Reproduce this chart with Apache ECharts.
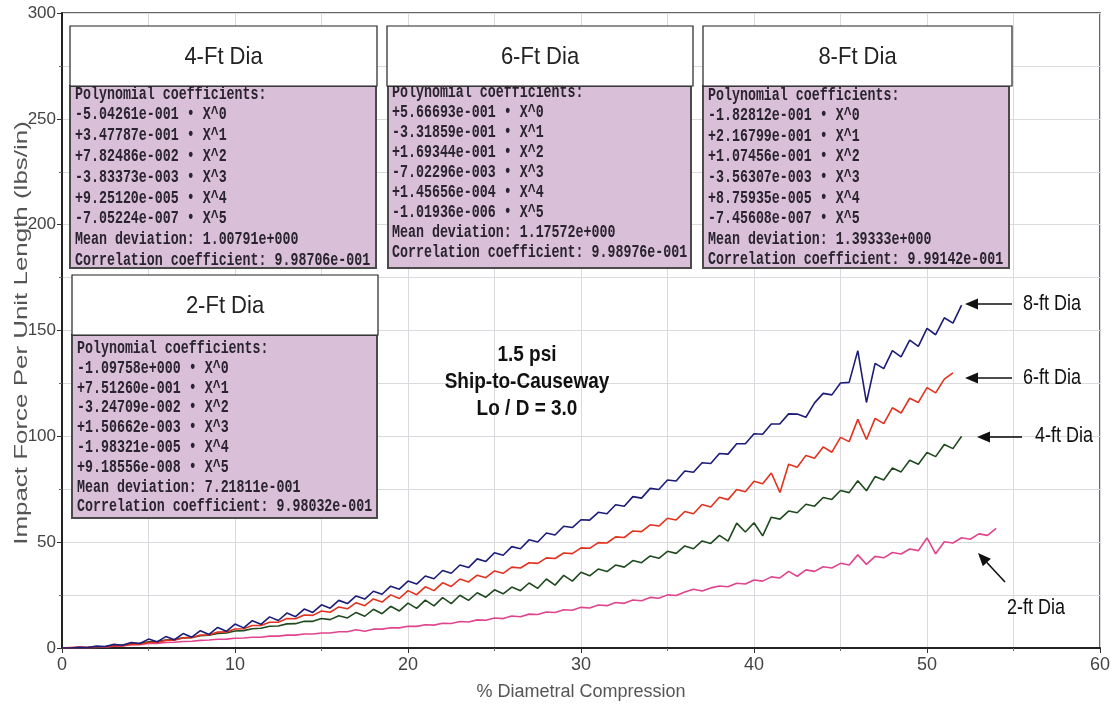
<!DOCTYPE html>
<html><head><meta charset="utf-8">
<script src="https://cdn.jsdelivr.net/npm/echarts@6/dist/echarts.min.js"></script>
<style>html,body{margin:0;padding:0;background:#fff}#c{width:1114px;height:707px}</style>
</head><body><div id="c"></div><script>
// % diametral compression sample positions
const compression = [0,0.5,1,1.5,2,2.5,3,3.5,4,4.5,5,5.5,6,6.5,7,7.5,8,8.5,9,9.5,
10,10.5,11,11.5,12,12.5,13,13.5,14,14.5,15,15.5,16,16.5,17,17.5,18,18.5,19,19.5,
20,20.5,21,21.5,22,22.5,23,23.5,24,24.5,25,25.5,26,26.5,27,27.5,28,28.5,29,29.5,
30,30.5,31,31.5,32,32.5,33,33.5,34,34.5,35,35.5,36,36.5,37,37.5,38,38.5,39,39.5,
40,40.5,41,41.5,42,42.5,43,43.5,44,44.5,45,45.5,46,46.5,47,47.5,48,48.5,49,49.5,
50,50.5,51,51.5,52,52.5,53,53.5,54];

const force8ft = [0,0,0.3,0.2,0.9,0.7,1.7,1.3,2.6,2.1,
4.2,2.9,5.4,3.9,6.8,5.1,8.2,6.4,9.7,7.9,
11.3,9.5,12.9,11.2,14.7,13.0,16.5,14.8,18.4,16.8,
20.4,18.8,22.5,21.0,24.6,23.1,26.8,25.4,29.2,27.8,
31.6,30.2,34.0,32.7,36.6,35.3,39.2,38.0,42.1,40.9,
45.0,43.8,47.9,46.9,51.1,50.1,54.3,53.4,57.5,56.9,
60.6,60.4,64.1,63.4,67.7,67.0,71.5,70.8,75.4,74.9,
79.4,78.9,83.6,83.0,87.5,87.2,91.9,91.6,96.5,96.5,
101.2,101.0,105.8,105.9,110.6,110.5,109.0,115.8,120.3,119.6,
125.2,125.5,140.5,116.0,134.5,132.0,140.5,137.5,145.5,142.5,
151.0,148.0,156.0,153.5,162.0];

const force6ft = [0,0.2,0.4,0.3,0.6,0.6,1.0,1.1,1.7,1.8,
2.6,2.6,3.6,3.7,4.8,4.9,6.1,6.2,7.5,7.6,
9.0,9.1,10.6,10.6,12.2,12.2,13.9,13.8,15.6,15.4,
17.5,16.9,19.4,18.5,21.4,20.0,23.2,21.7,25.1,23.4,
27.1,25.2,28.9,27.1,30.8,29.1,32.6,31.2,34.4,33.2,
36.4,35.3,38.2,37.8,40.3,40.0,42.6,42.3,44.9,44.6,
47.3,47.1,49.8,49.6,52.5,52.2,55.3,55.0,58.2,57.6,
61.3,60.5,64.5,63.4,67.8,66.6,71.2,70.1,74.9,73.8,
78.8,77.6,82.7,73.5,86.8,85.4,91.0,89.6,95.0,92.5,
99.5,97.5,108.0,98.5,108.5,106.0,113.5,111.0,118.0,116.0,
123.0,120.5,127.0,130.0];

const force4ft = [0,0,0.1,0.2,0.5,0.7,1.2,1.4,2.0,2.2,
2.9,3.1,3.8,4.0,4.8,5.0,5.8,6.0,6.9,7.1,
8.0,8.2,9.1,9.3,10.3,10.4,11.4,11.5,12.6,12.6,
13.9,13.4,15.2,14.2,16.8,15.0,18.3,16.2,19.7,17.5,
21.2,18.7,22.6,19.9,23.8,21.0,24.9,22.5,26.1,24.0,
27.5,25.6,28.8,27.1,30.7,28.2,32.6,29.7,34.3,31.6,
35.8,34.1,37.3,36.1,39.2,38.2,41.3,40.3,43.5,42.4,
45.7,44.7,48.2,46.9,50.6,49.4,53.2,50.5,59.0,54.8,
59.2,53.0,61.8,60.9,64.7,63.9,67.9,67.0,71.1,70.2,
74.4,73.4,79.0,74.3,81.0,79.4,85.0,83.2,88.7,86.8,
92.4,90.4,96.1,94.2,100.0];

const force2ft = [0,0,0,0.1,0.3,0.5,0.9,1.0,1.5,1.6,
2.1,2.2,2.6,2.7,3.1,3.2,3.6,3.8,4.1,4.2,
4.6,4.7,5.1,5.1,5.6,5.6,6.1,6.1,6.6,6.6,
7.1,7.1,7.7,7.7,8.6,7.9,8.9,8.9,9.6,9.5,
10.3,10.2,11.0,10.8,11.7,11.6,12.5,12.3,13.3,13.1,
14.2,13.9,15.1,14.8,16.0,15.8,17.0,16.8,18.1,17.8,
19.2,18.9,20.3,20.0,21.5,21.1,22.7,22.3,23.9,23.5,
25.1,24.8,26.5,27.8,26.9,28.4,29.3,28.9,30.6,30.2,
32.1,31.6,33.6,33.1,36.2,33.9,36.9,36.2,38.4,37.8,
40.0,39.2,44.0,39.5,43.3,42.6,45.1,44.4,46.8,46.0,
52.0,44.5,50.2,49.6,52.1,51.4,53.9,53.2,56.5];

const seriesNames = ['2-ft Dia','4-ft Dia','6-ft Dia','8-ft Dia'];
const xTicks = [0,10,20,30,40,50,60];
const yTicks = [0,50,100,150,200,250,300];

const box4ftTitle = '4-Ft Dia';
const box4ftLines = ['Polynomial coefficients:','-5.04261e-001 \u2022 X^0','+3.47787e-001 \u2022 X^1','+7.82486e-002 \u2022 X^2','-3.83373e-003 \u2022 X^3','+9.25120e-005 \u2022 X^4','-7.05224e-007 \u2022 X^5','Mean deviation: 1.00791e+000','Correlation coefficient: 9.98706e-001'];
const box6ftTitle = '6-Ft Dia';
const box6ftLines = ['Polynomial coefficients:','+5.66693e-001 \u2022 X^0','-3.31859e-001 \u2022 X^1','+1.69344e-001 \u2022 X^2','-7.02296e-003 \u2022 X^3','+1.45656e-004 \u2022 X^4','-1.01936e-006 \u2022 X^5','Mean deviation: 1.17572e+000','Correlation coefficient: 9.98976e-001'];
const box8ftTitle = '8-Ft Dia';
const box8ftLines = ['Polynomial coefficients:','-1.82812e-001 \u2022 X^0','+2.16799e-001 \u2022 X^1','+1.07456e-001 \u2022 X^2','-3.56307e-003 \u2022 X^3','+8.75935e-005 \u2022 X^4','-7.45608e-007 \u2022 X^5','Mean deviation: 1.39333e+000','Correlation coefficient: 9.99142e-001'];
const box2ftTitle = '2-Ft Dia';
const box2ftLines = ['Polynomial coefficients:','-1.09758e+000 \u2022 X^0','+7.51260e-001 \u2022 X^1','-3.24709e-002 \u2022 X^2','+1.50662e-003 \u2022 X^3','-1.98321e-005 \u2022 X^4','+9.18556e-008 \u2022 X^5','Mean deviation: 7.21811e-001','Correlation coefficient: 9.98032e-001'];
const noteLines = ['1.5 psi','Ship-to-Causeway','Lo / D = 3.0'];
const xAxisTitle = '% Diametral Compression';
const yAxisTitle = 'Impact Force Per Unit Length (lbs/in)';

function pairs(arr){ return arr.map((v,i)=>[compression[i], v]); }

const NARROW = "'Liberation Sans Narrow','Liberation Sans',Arial,sans-serif";
const SANS = "'Liberation Sans',Arial,sans-serif";
const MONO = "'Liberation Mono','DejaVu Sans Mono',monospace";

function txt(x,y,text,opt){
  opt = opt||{};
  return {type:'text', x:x, y:y, z:opt.z||120, rotation:opt.rotation||0,
    scaleX:opt.scaleX||1, scaleY:opt.scaleY||1,
    style:{text:text, fill:opt.fill||'#222', fontSize:opt.size||14,
      fontFamily:opt.family||SANS, fontWeight:opt.weight||'normal',
      align:opt.align||'left', textAlign:opt.align||'left',
      verticalAlign:'middle', textVerticalAlign:'middle'}};
}
function makeBox(hx,hy,hw,hh,bx,bw,bBottom,title,lines,tx,ty0,step){
  const els = [];
  els.push({type:'rect', z:110, shape:{x:bx,y:hy+hh,width:bw,height:bBottom-(hy+hh)},
    style:{fill:'#d9c0d8', stroke:'#4a4a4a', lineWidth:2}});
  lines.forEach((l,i)=>{
    els.push(txt(tx, ty0+i*step, l, {size:13.3, family:MONO, weight:'bold', fill:'#2a2330', scaleY:1.35, z:111}));
  });
  els.push({type:'rect', z:115, shape:{x:hx,y:hy,width:hw,height:hh},
    style:{fill:'#ffffff', stroke:'#222', lineWidth:1.2}});
  els.push(txt(hx+hw/2, hy+hh/2+1, title, {size:22, family:NARROW, fill:'#222', align:'center', z:116, scaleY:1.1}));
  return els;
}
function arrow(x1,y1,x2,y2){
  const ang = Math.atan2(y2-y1, x2-x1), L = 13, W = 5.5;
  const bxp = x2 - L*Math.cos(ang), byp = y2 - L*Math.sin(ang);
  const nx = -Math.sin(ang), ny = Math.cos(ang);
  return [
    {type:'line', z:120, shape:{x1:x1,y1:y1,x2:bxp,y2:byp}, style:{stroke:'#111', lineWidth:1.6}},
    {type:'polygon', z:120, shape:{points:[[x2,y2],[bxp+nx*W,byp+ny*W],[bxp-nx*W,byp-ny*W]]}, style:{fill:'#111'}}
  ];
}

let graphics = [];
graphics = graphics.concat(makeBox(70,26,307,60,70,306,268,box4ftTitle,box4ftLines,75,94,20.8));
graphics = graphics.concat(makeBox(387,26,306,60,388,303,268,box6ftTitle,box6ftLines,392,92,20.1));
graphics = graphics.concat(makeBox(703,26,309,60,703,306,268,box8ftTitle,box8ftLines,708,95,20.6));
graphics = graphics.concat(makeBox(72,275,306,60,72,305,518,box2ftTitle,box2ftLines,77,348.5,19.8));
noteLines.forEach((t,i)=>graphics.push(txt(527,355+i*27,t,{size:19,family:NARROW,weight:'bold',fill:'#111',align:'center',scaleY:1.15})));
graphics = graphics.concat(arrow(1012,304,965,304), arrow(1012,378,965,378), arrow(1022,437,977,437), arrow(1005,582,978,553));
graphics.push(txt(1023,304,seriesNames[3],{size:18,family:NARROW,fill:'#111',scaleY:1.2}));
graphics.push(txt(1023,378,seriesNames[2],{size:18,family:NARROW,fill:'#111',scaleY:1.2}));
graphics.push(txt(1035,436,seriesNames[1],{size:18,family:NARROW,fill:'#111',scaleY:1.2}));
graphics.push(txt(1007,608,seriesNames[0],{size:18,family:NARROW,fill:'#111',scaleY:1.2}));
graphics.push(txt(22,333,yAxisTitle,{size:18,family:SANS,fill:'#555',align:'center',rotation:Math.PI/2,scaleX:1.44}));

const chart = echarts.init(document.getElementById('c'), null, {renderer:'canvas'});
const gridColor = '#dadade';
chart.setOption({
  animation:false,
  backgroundColor:'#fff',
  grid:{left:62,right:14,top:13,bottom:59,show:true,borderColor:'#333',borderWidth:1.5},
  xAxis:{type:'value',min:0,max:60,interval:10,
    name:xAxisTitle,nameLocation:'middle',nameGap:35,
    nameTextStyle:{fontSize:18,color:'#555',fontFamily:SANS},
    axisLine:{show:true,onZero:false,lineStyle:{color:'#222',width:2}},
    axisTick:{show:true,length:5,lineStyle:{color:'#333'}},
    minorTick:{show:true,splitNumber:2,length:3,lineStyle:{color:'#666'}},
    axisLabel:{fontSize:18,color:'#444',fontFamily:NARROW,margin:8,
      formatter:v=>xTicks.indexOf(v)>=0?String(v):''},
    splitLine:{show:true,lineStyle:{color:gridColor,width:1}},
    minorSplitLine:{show:true,lineStyle:{color:gridColor,width:1}}},
  yAxis:{type:'value',min:0,max:300,interval:50,
    axisLine:{show:true,onZero:false,lineStyle:{color:'#222',width:2}},
    axisTick:{show:true,length:5,lineStyle:{color:'#333'}},
    minorTick:{show:true,splitNumber:2,length:3,lineStyle:{color:'#666'}},
    axisLabel:{fontSize:17,color:'#444',fontFamily:NARROW,margin:6,
      formatter:v=>yTicks.indexOf(v)>=0?String(v):''},
    splitLine:{show:true,lineStyle:{color:gridColor,width:1}},
    minorSplitLine:{show:true,lineStyle:{color:gridColor,width:1}}},
  series:[
    {name:seriesNames[0],type:'line',data:pairs(force2ft),showSymbol:false,symbol:'none',z:3,
      lineStyle:{color:'#e0448e',width:1.6}},
    {name:seriesNames[1],type:'line',data:pairs(force4ft),showSymbol:false,symbol:'none',z:4,
      lineStyle:{color:'#1f4a1f',width:1.6}},
    {name:seriesNames[2],type:'line',data:pairs(force6ft),showSymbol:false,symbol:'none',z:5,
      lineStyle:{color:'#e2321e',width:1.6}},
    {name:seriesNames[3],type:'line',data:pairs(force8ft),showSymbol:false,symbol:'none',z:6,
      lineStyle:{color:'#1c1c78',width:1.6}}
  ],
  graphic:{elements:graphics}
});
</script></body></html>
